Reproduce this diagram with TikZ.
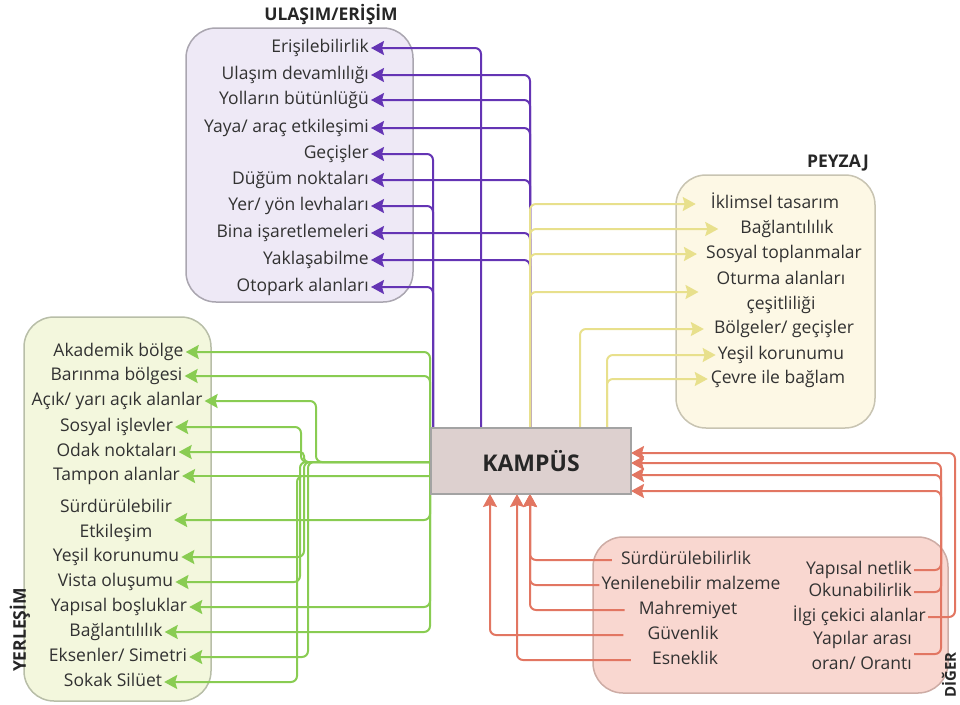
\documentclass[tikz,border=0pt]{standalone}
\usepackage{fontspec}
\setmainfont{Open Sans}
\usetikzlibrary{arrows.meta,calc}
\definecolor{purp}{RGB}{100,52,180}
\definecolor{yel}{RGB}{232,224,140}
\definecolor{grn}{RGB}{137,204,82}
\definecolor{redc}{RGB}{226,118,98}
\definecolor{txt}{RGB}{50,50,50}
\definecolor{lavfill}{RGB}{238,233,246}
\definecolor{lavdraw}{RGB}{170,166,176}
\definecolor{yfill}{RGB}{253,248,229}
\definecolor{ydraw}{RGB}{200,196,178}
\definecolor{gfill}{RGB}{243,247,221}
\definecolor{gdraw}{RGB}{184,190,168}
\definecolor{rfill}{RGB}{249,215,208}
\definecolor{rdraw}{RGB}{205,172,165}
\definecolor{kfill}{RGB}{221,208,207}
\definecolor{kdraw}{RGB}{163,163,163}
\pgfdeclarelayer{bg}
\pgfdeclarelayer{conn}
\pgfsetlayers{bg,conn,main}
\begin{document}
\begin{tikzpicture}[x=1pt,y=-1pt,
  item/.style={font=\fontsize{17.5}{25}\selectfont, text=txt, inner sep=2pt, text height=13pt, text depth=4pt},
  itemtwo/.style={font=\fontsize{17.5}{25}\selectfont, text=txt, inner sep=2pt, align=center},
  ttl/.style={font=\fontsize{17.5}{20}\selectfont\bfseries, text=black!85, inner sep=0pt},
  grp/.style={rounded corners=30pt, line width=1.5pt, minimum width=#1, outer sep=0pt, inner sep=0pt},
  conn/.style={line width=2pt, rounded corners=6pt},
  tip/.style={-{Stealth[length=13pt,width=14pt,inset=2pt]}},
]
\useasboundingbox (0,0) rectangle (960,704);

% group boxes
\begin{pgfonlayer}{bg}
\node[grp=227pt, minimum height=274pt, draw=lavdraw, fill=lavfill] (ulabox) at (299.5,165) {};
\node[grp=199pt, minimum height=253pt, draw=ydraw, fill=yfill] (peybox) at (775.5,301.5) {};
\node[grp=187pt, minimum height=384pt, draw=gdraw, fill=gfill] (yerbox) at (117.5,509) {};
\node[grp=355pt, minimum height=156pt, draw=rdraw, fill=rfill] (digbox) at (770.5,615) {};
\end{pgfonlayer}

% titles
\node[ttl] (tula) at (331,15) {ULAŞIM/ERİŞİM};
\node[ttl] (tpey) at (838,163) {PEYZAJ};
\node[ttl, rotate=90] (tyer) at (20,630) {YERLEŞİM};
\node[ttl, rotate=90, font=\fontsize{15}{18}\selectfont\bfseries] (tdig) at (949,675) {DİĞER};

% central node
\node[draw=kdraw, fill=kfill, line width=2.5pt, minimum width=200pt, minimum height=66pt,
      outer sep=0pt, font=\fontsize{23}{25}\selectfont\bfseries, text=black!85] (kamp) at (531,461) {KAMPÜS};

% ULASIM items
\node[item, anchor=east] (e1) at (371,48) {Erişilebilirlik};
\node[item, anchor=east] (e2) at (371,75) {Ulaşım devamlılığı};
\node[item, anchor=east] (e3) at (371,100) {Yolların bütünlüğü};
\node[item, anchor=east] (e4) at (371,128) {Yaya/ araç etkileşimi};
\node[item, anchor=east] (e5) at (371,154) {Geçişler};
\node[item, anchor=east] (e6) at (371,180) {Düğüm noktaları};
\node[item, anchor=east] (e7) at (371,206) {Yer/ yön levhaları};
\node[item, anchor=east] (e8) at (371,233) {Bina işaretlemeleri};
\node[item, anchor=east] (e9) at (371,260) {Yaklaşabilme};
\node[item, anchor=east] (e10) at (371,287) {Otopark alanları};

% PEYZAJ items
\node[item, inner xsep=15pt] (p1) at (775,204) {İklimsel tasarım};
\node[item, inner xsep=22pt] (p2) at (787,229) {Bağlantılılık};
\node[item, inner xsep=9pt] (p3) at (784,254) {Sosyal toplanmalar};
\node[itemtwo, inner xsep=18pt] (p4) at (781,292) {Oturma alanları\\çeşitliliği};
\node[item, inner xsep=10pt] (p5) at (784,329) {Bölgeler/ geçişler};
\node[item] (p6) at (781,355) {Yeşil korunumu};
\node[item, inner xsep=3pt] (p7) at (778,379) {Çevre ile bağlam};

% YERLESIM items
\node[item] (g1) at (118.5,352) {Akademik bölge};
\node[item] (g2) at (116.5,376) {Barınma bölgesi};
\node[item] (g3) at (117,401) {Açık/ yarı açık alanlar};
\node[item] (g4) at (116.5,427) {Sosyal işlevler};
\node[item] (g5) at (116.5,452) {Odak noktaları};
\node[item] (g6) at (116.5,476) {Tampon alanlar};
\node[itemtwo] (g7) at (116,520) {Sürdürülebilir\\Etkileşim};
\node[item] (g8) at (116,557) {Yeşil korunumu};
\node[item] (g9) at (115.5,582) {Vista oluşumu};
\node[item] (g10) at (119,607) {Yapısal boşluklar};
\node[item] (g11) at (116,632) {Bağlantılılık};
\node[item] (g12) at (118,657) {Eksenler/ Simetri};
\node[item] (g13) at (113,682) {Sokak Silüet};

% DIGER items
\node[item, inner xsep=9pt] (r1) at (686,560) {Sürdürülebilirlik};
\node[item] (r2) at (691,585) {Yenilenebilir malzeme};
\node[item, inner xsep=14pt] (r3) at (688,610) {Mahremiyet};
\node[item, inner xsep=24pt] (r4) at (683,635) {Güvenlik};
\node[item, inner xsep=21pt] (r5) at (685,660) {Esneklik};
\node[item, anchor=east] (q1) at (914,570) {Yapısal netlik};
\node[item, anchor=east] (q2) at (914,592) {Okunabilirlik};
\node[item, anchor=east] (q3) at (928,617) {İlgi çekici alanlar};
\node[itemtwo, align=right, anchor=east] (q4) at (914,650.5) {Yapılar arası\\oran/ Orantı};

% anchor points on KAMPUS
\coordinate (kn1) at ($(kamp.north west)+(50,0)$);
\coordinate (kn2) at ($(kamp.north west)+(99,0)$);
\coordinate (kn0) at ($(kamp.north west)+(2,0)$);
\coordinate (kn3) at ($(kamp.north west)+(149,0)$);
\coordinate (kn4) at ($(kamp.north west)+(176,0)$);
\coordinate (kw1) at ($(kamp.north west)+(-1,34)$);
\coordinate (kw2) at ($(kamp.north west)+(-1,48)$);
\coordinate (ks1) at ($(kamp.south west)+(59,0)$);
\coordinate (ks2) at ($(kamp.south west)+(86,0)$);
\coordinate (ks3) at ($(kamp.south west)+(99,0)$);
\coordinate (ke1) at ($(kamp.north east)+(0,25)$);
\coordinate (ke2) at ($(kamp.north east)+(0,35)$);
\coordinate (ke3) at ($(kamp.north east)+(0,47)$);
\coordinate (ke4) at ($(kamp.north east)+(0,63)$);

\begin{pgfonlayer}{conn}
% purple
\foreach \n in {e2,e3,e4,e6,e8,e9} \draw[conn, purp, tip] (kn2) |- (\n.east);
\draw[conn, purp, tip] (kn1) |- (e1.east);
\foreach \n in {e5,e7,e10} \draw[conn, purp, tip] (kn0) |- (\n.east);
% yellow
\foreach \n in {p1,p2,p3,p4} \draw[conn, yel, tip] (kn2) |- (\n.west);
\draw[conn, yel, tip] (kn3) |- (p5.west);
\foreach \n in {p6,p7} \draw[conn, yel, tip] (kn4) |- (\n.west);
% green
\foreach \n in {g1,g2,g7,g10,g11} \draw[conn, grn, tip] (kw1) |- (\n.east);
\draw[conn, grn, tip] (kw1) -- ++(-114,0) |- (g3.east);
\draw[conn, grn, tip] (kw1) -- ++(-129,0) |- (g4.east);
\draw[conn, grn, tip, rounded corners=4pt] (kw1) -- ++(-126,0) |- (g5.east);
\draw[conn, grn, tip] (kw2) -- (g6.east);
\draw[conn, grn, tip] (kw1) -- ++(-126,0) |- (g8.east);
\draw[conn, grn, tip] (kw1) -- ++(-130,0) |- (g9.east);
\draw[conn, grn, tip] (kw1) -- ++(-122,0) |- (g12.east);
\draw[conn, grn, tip] (kw2) -- ++(-133,0) |- (g13.east);
% red
\foreach \n in {r1,r2,r3} \draw[conn, redc, tip] (\n.west) -| (ks3);
\draw[conn, redc, tip] (r4.west) -| (ks1);
\draw[conn, redc, tip] (r5.west) -| (ks2);
\draw[conn, redc, tip] (q1.east) -- ++(27,0) |- (ke2);
\draw[conn, redc, tip] (q2.east) -- ++(27,0) |- (ke3);
\draw[conn, redc, tip] (q3.east) -- ++(27,0) |- (ke1);
\draw[conn, redc, tip] ([yshift=-3.5pt]q4.east) -- ++(27,0) |- (ke4);
\end{pgfonlayer}
\end{tikzpicture}
\end{document}
